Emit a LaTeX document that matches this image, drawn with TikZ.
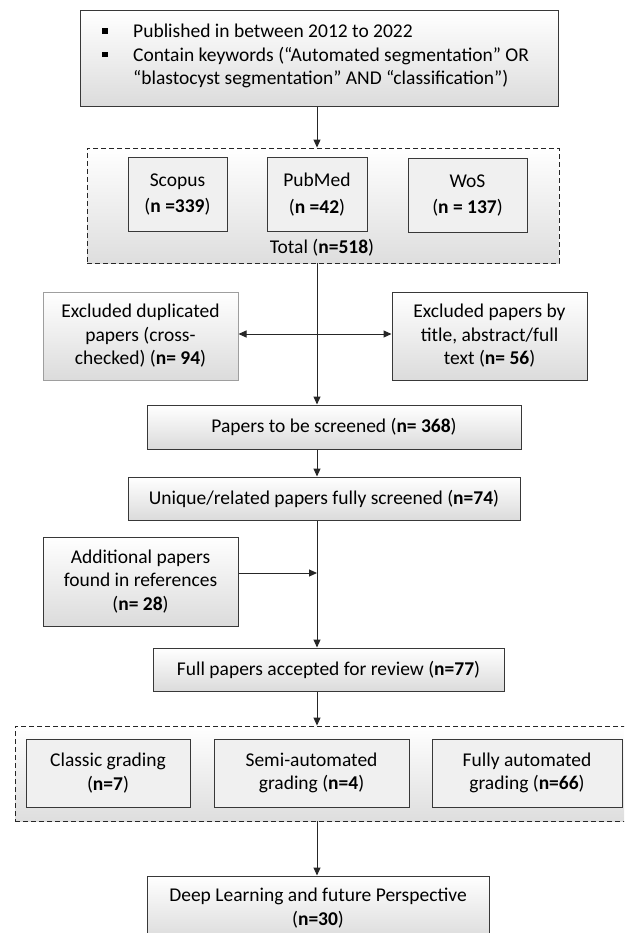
\documentclass[tikz,border=0pt]{standalone}
\usepackage{fontspec}
\setmainfont{Carlito}
\usetikzlibrary{arrows.meta, positioning, calc}

\begin{document}
\begin{tikzpicture}[x=1pt, y=-1pt,
    every node/.style={font=\fontsize{19.5}{23.5}\selectfont, align=center},
    box/.style={draw=black!78, line width=1pt, top color=white, bottom color=black!14, inner sep=0pt},
    src/.style={draw=black!78, line width=1pt, fill=black!6, inner sep=0pt},
    grp/.style={draw=black!85, line width=0.9pt, dash pattern=on 5pt off 3pt, top color=white, bottom color=black!13, inner sep=0pt},
    arr/.style={-{Triangle[length=8pt, width=7pt]}, line width=1pt, draw=black!85}]
    % Page frame
    \useasboundingbox (0,0) rectangle (624,933);
    \clip (0,0) rectangle (624,933);

    % Search criteria
    \node[box, minimum width=478pt, minimum height=96pt] (crit) at (319,59) {};
    \node[anchor=west, align=left, inner sep=0pt] (critText) at (102,56) {
        \makebox[31pt][l]{\rule[4pt]{5.5pt}{5.5pt}}Published in between 2012 to 2022\\
        \makebox[31pt][l]{\rule[4pt]{5.5pt}{5.5pt}}Contain keywords (“Automated segmentation” OR\\
        \hspace*{31pt}“blastocyst segmentation” AND “classification”)
    };

    % Databases
    \node[grp, minimum width=472pt, minimum height=115pt] (search) at (323,205.5) {};
    \node[src, minimum width=99pt, minimum height=73pt] (scopus) at (177.5,194.5) {Scopus\\[3pt](\textbf{n =339})};
    \node[src, minimum width=100pt, minimum height=73pt] (pubmed) at (317,194.5) {PubMed\\[3pt](\textbf{n =42})};
    \node[src, minimum width=119pt, minimum height=73pt] (wos) at (467.5,195.5) {WoS\\[3pt](\textbf{n = 137})};
    \node (total) at (322,248) {Total (\textbf{n=518})};

    % Exclusions
    \node[box, draw=black!38, minimum width=195pt, minimum height=88pt] (dup) at (140.5,336) {Excluded duplicated\\papers (cross-\\checked) (\textbf{n= 94})};
    \node[box, minimum width=195pt, minimum height=88pt] (excl) at (489.5,336) {Excluded papers by\\title, abstract/full\\text (\textbf{n= 56})};

    % Screening
    \node[box, minimum width=374pt, minimum height=44pt] (screen) at (334,427) {Papers to be screened (\textbf{n= 368})};
    \node[box, minimum width=392pt, minimum height=43pt] (uniq) at (324,498.5) {Unique/related papers fully screened (\textbf{n=74})};
    \node[box, minimum width=195pt, minimum height=89pt] (addl) at (140.5,581.5) {Additional papers\\found in references\\(\textbf{n= 28})};
    \node[box, minimum width=351pt, minimum height=43pt] (full) at (328.5,669.5) {Full papers accepted for review (\textbf{n=77})};

    % Grading groups
    \node[grp, minimum width=618pt, minimum height=95pt] (grade) at (324,773.5) {};
    \node[src, minimum width=164pt, minimum height=68pt] (classic) at (108,773) {Classic grading\\(\textbf{n=7})};
    \node[src, minimum width=195pt, minimum height=68pt] (semi) at (311.5,773) {Semi-automated\\grading (\textbf{n=4})};
    \node[src, minimum width=190pt, minimum height=68pt] (fully) at (527,773) {Fully automated\\grading (\textbf{n=66})};

    % Outcome
    \node[box, minimum width=342pt, minimum height=64pt] (deep) at (318,908) {Deep Learning and future Perspective\\(\textbf{n=30})};

    % Connectors along the main line
    \coordinate (spine) at (317,0);
    \coordinate (split) at (317,334);
    \coordinate (join) at (317,573);
    \draw[arr] (crit.south -| spine) -- (search.north -| spine);
    \draw[arr] (search.south -| spine) -- (screen.north -| spine);
    \draw[arr] (split) -- (split -| dup.east);
    \draw[arr] (split) -- (split -| excl.west);
    \draw[arr] (screen.south -| spine) -- (uniq.north -| spine);
    \draw[arr] (uniq.south -| spine) -- (full.north -| spine);
    \draw[arr] (join -| addl.east) -- (join);
    \draw[arr] (full.south -| spine) -- (grade.north -| spine);
    \draw[arr] (grade.south -| spine) -- (deep.north -| spine);
\end{tikzpicture}
\end{document}
